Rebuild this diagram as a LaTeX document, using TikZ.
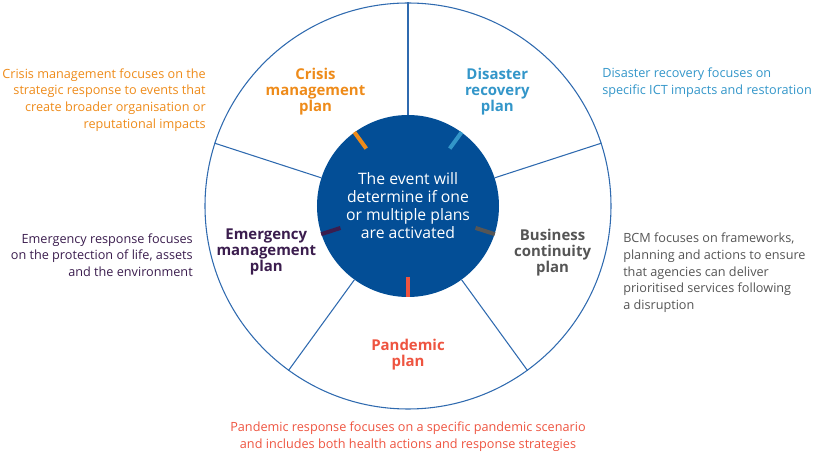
\documentclass[tikz,border=0pt]{standalone}
\usepackage{fontspec}
\setmainfont{Open Sans}
\usetikzlibrary{positioning}

\definecolor{hubblue}{HTML}{034E96}
\definecolor{rimblue}{HTML}{2F6AAF}
\definecolor{crisisorange}{HTML}{EE8B1A}
\definecolor{drblue}{HTML}{3396C9}
\definecolor{bcmgrey}{HTML}{555555}
\definecolor{pandred}{HTML}{EE5440}
\definecolor{emerpurple}{HTML}{3B1D4E}

\begin{document}
\begin{tikzpicture}[x=0.75pt,y=0.75pt,
    plan/.style={font=\bfseries\fontsize{11.2}{12}\selectfont, align=center},
    desc/.style={font=\fontsize{9.5}{12.5}\selectfont, inner sep=0pt},
    plantick/.style={line width=3pt}]
    \useasboundingbox (-408,-246) rectangle (413,206);

    % wheel
    \node[circle, draw=rimblue, line width=0.8pt, minimum size=304.5pt, inner sep=0pt] (rim) at (0,0) {};
    \node[circle, fill=hubblue, minimum size=136.5pt, inner sep=0pt, text=white, align=center,
          font=\fontsize{11.8}{13.5}\selectfont] (hub) at (0,0)
          {The event will\\determine if one\\or multiple plans\\are activated};
    \foreach \a in {90,18,-54,-126,162}
        \draw[rimblue, line width=0.8pt] (hub.\a) -- (rim.\a);
    \foreach \a/\c in {126/crisisorange,54/drblue,-18/bcmgrey,-90/pandred,198/emerpurple}
        \draw[plantick, \c] (\a:71) -- (hub.\a);

    % plans
    \node[plan, crisisorange] (crisis) at (129:147) {Crisis\\management\\plan};
    \node[plan, drblue] (disaster) at (52:145) {Disaster\\recovery\\plan};
    \node[plan, bcmgrey] (business) at (-18:152) {Business\\continuity\\plan};
    \node[plan, pandred] (pandemic) at (-90:149) {Pandemic\\plan};
    \node[plan, emerpurple] (emergency) at (198:149) {Emergency\\management\\plan};

    % descriptions
    \node[desc, crisisorange, align=right, anchor=east] (crisisdesc) at (-202,106)
        {Crisis management focuses on the\\strategic response to events that\\create broader organisation or\\reputational impacts};
    \node[desc, drblue, align=left, anchor=west] (disasterdesc) at (194,123)
        {Disaster recovery focuses on\\specific ICT impacts and restoration};
    \node[desc, bcmgrey, align=left, anchor=west] (businessdesc) at (215,-67)
        {BCM focuses on frameworks,\\planning and actions to ensure\\that agencies can deliver\\prioritised services following\\a disruption};
    \node[desc, emerpurple, align=right, anchor=east] (emergencydesc) at (-215,-49)
        {Emergency response focuses\\on the protection of life, assets\\and the environment};
    \node[desc, pandred, align=center, below=12 of rim] (pandemicdesc)
        {Pandemic response focuses on a specific pandemic scenario\\and includes both health actions and response strategies};
\end{tikzpicture}
\end{document}
